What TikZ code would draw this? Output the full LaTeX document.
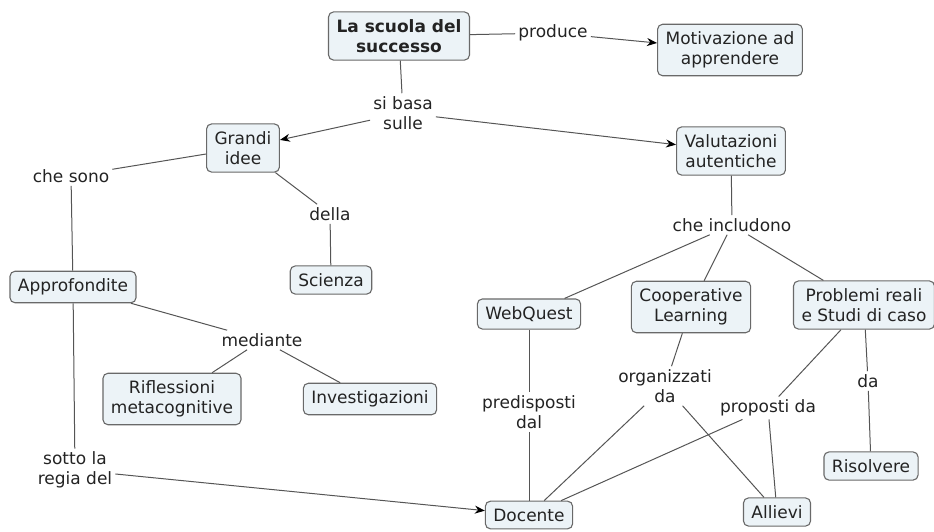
\documentclass[tikz,border=0pt]{standalone}
\usepackage{fontspec}
\setmainfont{DejaVu Sans}
\usetikzlibrary{arrows.meta}
\definecolor{boxfill}{RGB}{236,243,247}
\definecolor{boxline}{RGB}{105,105,105}
\definecolor{linkc}{RGB}{85,85,85}
\definecolor{txt}{RGB}{35,35,35}
\tikzset{
  concept/.style={draw=boxline, line width=1.1pt, fill=boxfill, rounded corners=5pt,
    align=center, inner xsep=8pt, inner ysep=7.5pt, text=txt, font=\fontsize{17}{20}\selectfont},
  lab/.style={align=center, inner sep=3pt, text=txt, font=\fontsize{17}{20}\selectfont},
  link/.style={draw=linkc, line width=1pt},
  arr/.style={link, -{Stealth[length=10pt,width=8pt,color=black]}}
}
\begin{document}
\begin{tikzpicture}[x=1pt,y=-1pt]
\useasboundingbox (0,0) rectangle (934,531);
% concepts
\node[concept, font=\fontsize{17}{20}\selectfont\bfseries] (scuola) at (399,36) {La scuola del\\successo};
\node[concept] (motiv) at (730,50) {Motivazione ad\\apprendere};
\node[concept] (grandi) at (243,148) {Grandi\\idee};
\node[concept] (valut) at (731,151) {Valutazioni\\autentiche};
\node[concept] (scienza) at (331,280) {Scienza};
\node[concept] (appro) at (73,287) {Approfondite};
\node[concept] (webq) at (529,314) {WebQuest};
\node[concept] (coop) at (691,307) {Cooperative\\Learning};
\node[concept] (probl) at (864,305) {Problemi reali\\e Studi di caso};
\node[concept] (rifl) at (172,399) {Riflessioni\\metacognitive};
\node[concept] (invest) at (370,399) {Investigazioni};
\node[concept] (risolv) at (871,466) {Risolvere};
\node[concept] (docente) at (529,515) {Docente};
\node[concept] (allievi) at (777,512) {Allievi};
% linking phrases
\node[lab] (produce) at (553,33) {produce};
\node[lab] (sibasa) at (403,113) {si basa\\sulle};
\node[lab] (chesono) at (71,176) {che sono};
\node[lab] (della) at (330,214) {della};
\node[lab] (includono) at (732,225) {che includono};
\node[lab] (mediante) at (262,340) {mediante};
\node[lab] (predisp) at (529,412) {predisposti\\dal};
\node[lab] (organ) at (665,386) {organizzati\\da};
\node[lab] (proposti) at (768,408) {proposti da};
\node[lab] (da) at (868,381) {da};
\node[lab] (sotto) at (75,470) {sotto la\\regia del};
% connectors
\draw[link] (scuola) -- (produce);
\draw[arr] (produce) -- (motiv);
\draw[link] (scuola) -- (sibasa);
\draw[arr] (sibasa) -- (grandi);
\draw[arr] (sibasa) -- (valut);
\draw[link] (grandi) -- (chesono);
\draw[link] (chesono) -- (appro);
\draw[link] (grandi) -- (della);
\draw[link] (della) -- (scienza);
\draw[link] (valut) -- (includono);
\draw[link] (includono) -- (webq);
\draw[link] (includono) -- (coop);
\draw[link] (includono) -- (probl);
\draw[link] (appro) -- (mediante);
\draw[link] (mediante) -- (rifl);
\draw[link] (mediante) -- (invest);
\draw[link] (appro) -- (sotto);
\draw[arr] (sotto) -- (docente);
\draw[link] (webq) -- (predisp);
\draw[link] (predisp) -- (docente);
\draw[link] (coop) -- (organ);
\draw[link] (organ) -- (docente);
\draw[link] (organ) -- (allievi);
\draw[link] (probl) -- (proposti);
\draw[link] (proposti) -- (docente);
\draw[link] (proposti) -- (allievi);
\draw[link] (probl) -- (da);
\draw[link] (da) -- (risolv);
\end{tikzpicture}
\end{document}
